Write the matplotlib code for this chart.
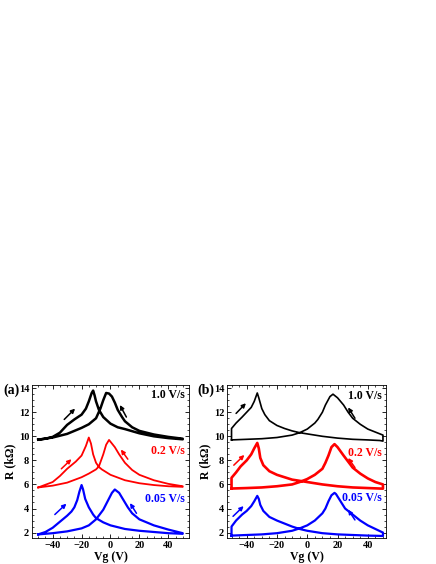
import matplotlib.pyplot as plt
from matplotlib.ticker import MultipleLocator

plt.rcParams['font.family'] = ['Liberation Serif', 'DejaVu Serif']
plt.rcParams['font.weight'] = 'bold'

# ---- panel (a) ----
a_blk_fx = [-50, -45, -40, -35, -30, -25, -20, -17, -15, -13, -12, -11, -10, -8, -5, 0, 5, 10, 20, 30, 40, 50]
a_blk_fy = [9.72, 9.8, 9.95, 10.3, 10.95, 11.4, 11.8, 12.3, 12.9, 13.6, 13.8, 13.4, 12.9, 12.2, 11.6, 11.05, 10.75, 10.6, 10.25, 10.0, 9.85, 9.75]
a_blk_bx = [50, 40, 30, 20, 15, 10, 8, 5, 3, 1, -1, -3, -5, -7, -10, -15, -20, -30, -40, -50]
a_blk_by = [9.8, 9.95, 10.15, 10.45, 10.75, 11.25, 11.6, 12.2, 12.8, 13.3, 13.55, 13.6, 13.0, 12.3, 11.5, 11.0, 10.7, 10.2, 9.9, 9.72]

a_red_fx = [-50, -40, -35, -30, -27, -24, -20, -17, -15, -13.5, -12, -10, -8, -6, -4, 0, 10, 20, 30, 40, 50]
a_red_fy = [5.75, 6.2, 6.7, 7.3, 7.6, 7.9, 8.4, 9.2, 9.9, 9.4, 8.5, 7.8, 7.45, 7.25, 7.1, 6.8, 6.35, 6.1, 5.95, 5.85, 5.8]
a_red_bx = [50, 40, 30, 20, 15, 10, 6, 3, 0, -1, -3, -5, -8, -10, -15, -20, -30, -40, -50]
a_red_by = [5.85, 6.05, 6.35, 6.8, 7.2, 7.8, 8.5, 9.1, 9.55, 9.7, 9.3, 8.5, 7.5, 7.25, 6.9, 6.6, 6.15, 5.9, 5.75]

a_blu_fx = [-50, -45, -40, -35, -30, -27, -25, -23, -21.5, -20, -19, -17.5, -15, -12, -10, -5, 0, 10, 20, 30, 40, 50]
a_blu_fy = [1.85, 2.05, 2.4, 2.9, 3.4, 3.75, 4.1, 4.7, 5.4, 5.95, 5.6, 4.8, 4.1, 3.5, 3.2, 2.85, 2.6, 2.3, 2.15, 2.05, 1.95, 1.9]
a_blu_bx = [50, 40, 30, 20, 15, 12, 9, 6, 3, 1, -2, -5, -10, -15, -20, -30, -40, -50]
a_blu_by = [1.95, 2.25, 2.6, 3.1, 3.6, 4.1, 4.7, 5.3, 5.58, 5.3, 4.6, 3.9, 3.1, 2.6, 2.35, 2.1, 1.95, 1.85]

# ---- panel (b) ----
b_blk_fx = [-50, -50, -47, -43, -40, -37, -35, -33, -32, -30, -28, -25, -20, -15, -10, -5, 0, 10, 20, 30, 40, 48, 50]
b_blk_fy = [9.7, 10.65, 11.1, 11.6, 12.0, 12.4, 12.9, 13.6, 13.2, 12.3, 11.8, 11.3, 10.9, 10.65, 10.45, 10.3, 10.2, 10.0, 9.85, 9.75, 9.7, 9.65, 9.6]
b_blk_bx = [50, 47, 43, 40, 35, 30, 27, 24, 20, 17, 15, 12, 10, 7, 5, 0, -5, -10, -20, -30, -40, -50]
b_blk_by = [10.1, 10.25, 10.45, 10.6, 11.0, 11.5, 12.0, 12.6, 13.2, 13.5, 13.3, 12.6, 12.0, 11.4, 11.1, 10.6, 10.3, 10.1, 9.9, 9.8, 9.75, 9.7]

b_red_fx = [-50, -50, -47, -44, -40, -37, -35, -33, -32, -31, -29, -25, -20, -10, 0, 10, 20, 30, 40, 50]
b_red_fy = [5.66, 6.55, 7.0, 7.5, 8.0, 8.5, 9.0, 9.45, 9.0, 8.2, 7.6, 7.1, 6.8, 6.4, 6.2, 6.0, 5.85, 5.75, 5.7, 5.65]
b_red_bx = [50, 45, 40, 35, 30, 27, 24, 20, 18, 16, 14, 12, 10, 5, 0, -5, -10, -20, -30, -40, -50]
b_red_by = [6.0, 6.2, 6.5, 6.9, 7.4, 7.9, 8.4, 9.1, 9.35, 9.1, 8.4, 7.8, 7.3, 6.8, 6.45, 6.2, 6.0, 5.85, 5.75, 5.7, 5.66]

b_blu_fx = [-50, -50, -47, -43, -40, -37, -35, -33, -32, -31, -29, -25, -20, -15, -10, -5, 0, 10, 20, 30, 40, 50]
b_blu_fy = [1.72, 2.5, 3.0, 3.5, 3.8, 4.2, 4.6, 5.05, 4.8, 4.3, 3.8, 3.3, 3.0, 2.75, 2.5, 2.3, 2.15, 1.95, 1.85, 1.8, 1.75, 1.72]
b_blu_bx = [50, 45, 40, 35, 30, 25, 22, 19, 18, 16, 14, 12, 10, 5, 0, -5, -10, -20, -30, -40, -50]
b_blu_by = [2.0, 2.3, 2.6, 3.0, 3.5, 4.0, 4.6, 5.2, 5.3, 5.1, 4.6, 4.0, 3.6, 3.0, 2.6, 2.35, 2.15, 1.95, 1.85, 1.8, 1.75]

rate_labels = ['1.0 V/s', '0.2 V/s', '0.05 V/s']
colors = ['black', 'red', 'blue']

# sweep-direction arrows: (x_tail, y_tail, x_head, y_head)
a_arrows = [[(-32, 11.4, -24.5, 12.3), (11, 11.6, 6.5, 12.6)],
            [(-34, 7.3, -27, 8.1), (12, 8.1, 7.2, 8.9)],
            [(-38.5, 3.5, -30.5, 4.4), (18, 3.6, 13.5, 4.45)]]
b_arrows = [[(-47, 11.9, -40.5, 12.75), (31.5, 11.5, 27, 12.4)],
            [(-48.5, 7.6, -41.5, 8.45), (31.5, 7.4, 27, 8.2)],
            [(-49, 3.35, -42, 4.2), (31.5, 3.05, 27, 3.9)]]
a_label_y = [13.4, 8.75, 4.8]
b_label_y = [13.35, 8.63, 4.88]

a_curves = [(a_blk_fx, a_blk_fy, a_blk_bx, a_blk_by, 1.8),
            (a_red_fx, a_red_fy, a_red_bx, a_red_by, 1.3),
            (a_blu_fx, a_blu_fy, a_blu_bx, a_blu_by, 1.6)]
b_curves = [(b_blk_fx, b_blk_fy, b_blk_bx, b_blk_by, 1.2),
            (b_red_fx, b_red_fy, b_red_bx, b_red_by, 1.9),
            (b_blu_fx, b_blu_fy, b_blu_bx, b_blu_by, 1.6)]

fig = plt.figure(figsize=(4.36, 5.64), dpi=100)
ax_a = fig.add_axes([0.0734, 0.0461, 0.360, 0.271])
ax_b = fig.add_axes([0.5206, 0.0461, 0.3647, 0.271])

for ax, curves, arrows, label_y, xlim, tag in [
        (ax_a, a_curves, a_arrows, a_label_y, (-54.3, 54.3), '(a)'),
        (ax_b, b_curves, b_arrows, b_label_y, (-53, 52), '(b)')]:
    for (fx, fy, bx, by, lw), col, arr, lab, ly in zip(curves, colors, arrows, rate_labels, label_y):
        ax.plot(fx + bx, fy + by, color=col, lw=lw)
        for (x0, y0, x1, y1) in arr:
            ax.annotate('', xy=(x1, y1), xytext=(x0, y0),
                        arrowprops=dict(arrowstyle='-|>', color=col, lw=1.1,
                                        mutation_scale=6, shrinkA=0, shrinkB=0))
        ax.text(0.975, ly, lab, color=col, fontsize=8.5, fontweight='bold',
                ha='right', va='center', transform=ax.get_yaxis_transform())
    ax.set_xlim(*xlim)
    ax.set_ylim(1.55, 14.25)
    ax.xaxis.set_major_locator(MultipleLocator(20))
    ax.xaxis.set_minor_locator(MultipleLocator(5))
    ax.yaxis.set_major_locator(MultipleLocator(2))
    ax.yaxis.set_minor_locator(MultipleLocator(0.5))
    ax.tick_params(which='both', direction='in', top=True, right=True, labelsize=7.5, pad=2)
    ax.tick_params(which='major', length=3, width=0.6)
    ax.tick_params(which='minor', length=1.5, width=0.5)
    for s in ax.spines.values():
        s.set_linewidth(0.6)
    for lbl in ax.get_xticklabels() + ax.get_yticklabels():
        lbl.set_fontweight('bold')
    ax.set_xlabel('Vg (V)', fontsize=8.5, fontweight='bold', labelpad=1)
    ax.set_ylabel('R (k\u03a9)', fontsize=8.5, fontweight='bold', labelpad=2)
    ax.text(-0.078, 0.965, tag, transform=ax.transAxes, fontsize=10, fontweight='bold',
            ha='right', va='center')

fig.savefig('out.png', dpi=100)
